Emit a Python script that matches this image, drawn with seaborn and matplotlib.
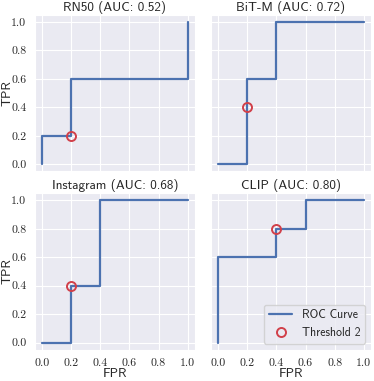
import numpy as np
import pandas as pd
import matplotlib
matplotlib.use("Agg")
import matplotlib.pyplot as plt
import seaborn as sns

sns.set_style("darkgrid")
plt.rcParams["font.family"] = ["cmss10", "DejaVu Sans"]
plt.rcParams["axes.unicode_minus"] = False

models = ["RN50", "BiT-M", "Instagram", "CLIP"]
aucs = [0.52, 0.72, 0.68, 0.80]
fprs = [
    [0.0, 0.0, 0.2, 0.2, 1.0, 1.0],
    [0.0, 0.2, 0.2, 0.4, 0.4, 1.0],
    [0.0, 0.2, 0.2, 0.4, 0.4, 1.0],
    [0.0, 0.0, 0.4, 0.4, 0.6, 0.6, 1.0],
]
tprs = [
    [0.0, 0.2, 0.2, 0.6, 0.6, 1.0],
    [0.0, 0.0, 0.6, 0.6, 1.0, 1.0],
    [0.0, 0.0, 0.4, 0.4, 1.0, 1.0],
    [0.0, 0.6, 0.6, 0.8, 0.8, 1.0, 1.0],
]
thr_fpr = [0.2, 0.2, 0.2, 0.4]
thr_tpr = [0.2, 0.4, 0.4, 0.8]
ticks = [0.0, 0.2, 0.4, 0.6, 0.8, 1.0]
tick_labels = ["0.0", "0.2", "0.4", "0.6", "0.8", "1.0"]

fig, axes = plt.subplots(2, 2, figsize=(3.74, 3.81), dpi=100, sharex=True, sharey=True)
fig.subplots_adjust(left=0.093, right=0.992, top=0.961, bottom=0.082, wspace=0.1, hspace=0.14)

for i, ax in enumerate(axes.flat):
    df = pd.DataFrame({"FPR": fprs[i], "TPR": tprs[i]})
    sns.lineplot(data=df, x="FPR", y="TPR", ax=ax, sort=False, estimator=None,
                 color="#4c72b0", linewidth=1.6, label="ROC Curve")
    ax.plot(thr_fpr[i], thr_tpr[i], "o", markerfacecolor="none",
            markeredgecolor="#d1404a", markeredgewidth=1.4, markersize=6.5,
            label="Threshold 2")
    ax.set_title(f"{models[i]} (AUC: {aucs[i]:.2f})", fontsize=9.5, pad=3)
    ax.set_xticks(ticks)
    ax.set_yticks(ticks)
    ax.set_xticklabels(tick_labels, fontfamily="cmr10", fontsize=8.5)
    ax.set_yticklabels(tick_labels, fontfamily="cmr10", fontsize=8.5)
    ax.tick_params(pad=2.5)
    ax.set_xlabel("FPR" if i >= 2 else "", fontsize=9.5, labelpad=0.5)
    ax.set_ylabel("TPR" if i % 2 == 0 else "", fontsize=9.5)
    ax.yaxis.set_label_coords(-0.135, 0.5)
    if i == 3:
        ax.legend(loc="lower right", fontsize=8.5)
    else:
        ax.get_legend().remove()

plt.savefig("out.png", dpi=100)
